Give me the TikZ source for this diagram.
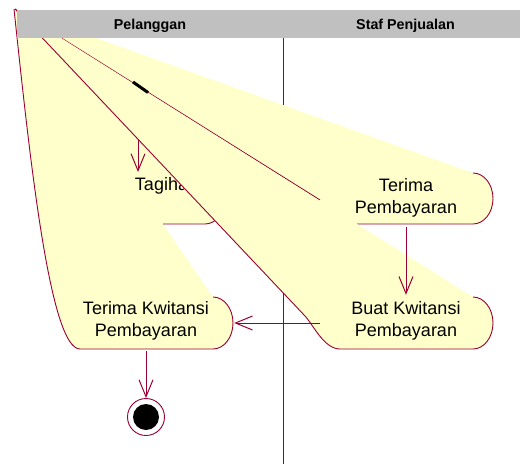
\documentclass[tikz,border=0pt]{standalone}
\usepackage{fontspec}
\setmainfont{Liberation Sans}
\usepackage{tikz}
\usetikzlibrary{arrows.meta,calc,positioning}

\definecolor{roseline}{RGB}{153,0,51}
\definecolor{rosefill}{RGB}{255,255,204}
\definecolor{lanegray}{RGB}{192,192,192}

\begin{document}
\begin{tikzpicture}
    [x=1pt, y=-1pt, >={Straight Barb[length=17pt,width=14pt]},
    act/.style={align=center, inner sep=0pt, font=\fontsize{18}{22.5}\selectfont},
    lane/.style={anchor=base, font=\fontsize{14.3}{16}\selectfont\bfseries},
    rim/.style={draw=roseline, line width=0.9pt},
    flow/.style={draw=roseline, line width=1pt, ->},
    rside/.style={start angle=90, end angle=-90, x radius=20pt}]

  \useasboundingbox (0,0) rectangle (520,464);
  \coordinate (org) at (15,9);
  \coordinate (tgSrc) at (138,128);
  \coordinate (tgTop) at (138,172);

  \draw[rim] (283.5,38) -- (283.5,464);

  \fill[rosefill] (org) -- (213,297) arc[rside, y radius=26pt] -- (80,349)
    .. controls (50,349) and (30,160) .. (14,9) -- cycle;
  \draw[rim] (213,297) arc[rside, y radius=26pt] -- (80,349)
    .. controls (50,349) and (30,160) .. (14,9);
  \node[act, minimum width=176pt, minimum height=60pt] (TK) at (146,321) {Terima Kwitansi\\Pembayaran};

  \fill[rosefill] (org) -- (205,173) arc[rside, y radius=25.5pt] -- (163,224) -- (155,224) -- cycle;
  \draw[rim] (205,173) arc[rside, y radius=25.5pt] -- (163,224);
  \node[act] (TG) at (166.5,185.4) {Tagihan};
  \draw[flow] (tgSrc) -- (tgTop);

  \fill[rosefill] (org) -- (473,173) arc[rside, y radius=25.5pt] -- (357,224) -- (357,232) -- cycle;
  \draw[rim] (473,173) arc[rside, y radius=25.5pt] -- (357,224);
  \draw[rim] (org) -- (320,200);
  \node[act, minimum height=58pt] (TP) at (406,198) {Terima\\Pembayaran};

  \fill[rosefill] (org) -- (473,297) arc[rside, y radius=26pt] -- (340,349)
    .. controls (324,349) and (313,324.5) .. (305,316) -- cycle;
  \draw[rim] (473,297) arc[rside, y radius=26pt] -- (340,349)
    .. controls (324,349) and (313,324.5) .. (305,316) -- (org);
  \node[act, minimum width=172pt, minimum height=52pt] (BK) at (406,321) {Buat Kwitansi\\Pembayaran};

  \fill[lanegray] (17,10) rectangle (520,38);
  \node[lane] (laneA) at (150,29) {Pelanggan};
  \node[lane] (laneB) at (405.5,29) {Staf Penjualan};

  \draw[line width=3pt] (133,82) -- (148,92.5);

  \node[circle, draw=roseline, line width=0.9pt, fill=white, minimum size=37pt, inner sep=0pt] (fin) at (146,417) {};
  \node[circle, fill=black, minimum size=26pt, inner sep=0pt] (finDot) at (fin) {};

  \draw[flow] (TP.south) -- (BK.north);
  \draw[flow] ([yshift=-2pt]BK.west) -- ([yshift=-2pt]TK.east);
  \draw[flow] (TK.south) -- (fin.north);

\end{tikzpicture}
\end{document}
